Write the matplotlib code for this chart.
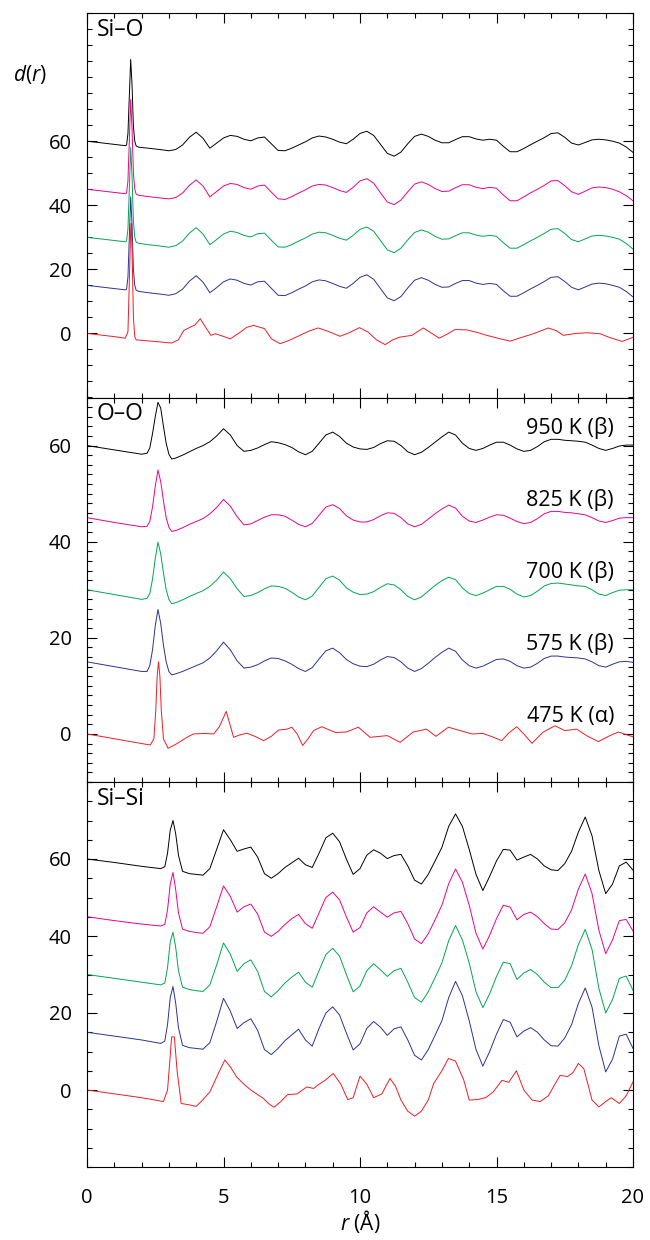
import numpy as np
import matplotlib
matplotlib.use("Agg")
import matplotlib.pyplot as plt
from matplotlib.ticker import FixedLocator, MultipleLocator

plt.rcParams['font.family'] = ['Open Sans', 'DejaVu Sans']
plt.rcParams['mathtext.fontset'] = 'custom'
plt.rcParams['mathtext.rm'] = 'Open Sans'
plt.rcParams['mathtext.it'] = 'Open Sans:italic'

# ---- data -------------------------------------------------------------
temps = ['475 K (α)', '575 K (β)', '700 K (β)', '825 K (β)', '950 K (β)']
offsets = [0, 15, 30, 45, 60]
colors = ['#ed1c24', '#2e3192', '#00a651', '#ec008c', '#000000']

# Si-O, beta phase grid
r_sio = [0, 0.5, 1.0, 1.4, 1.45, 1.5, 1.55, 1.6, 1.65, 1.7, 1.75, 1.8, 1.9, 2.25, 2.75,
         3.0, 3.25, 3.5, 3.75, 4.0, 4.25, 4.5, 4.75, 5.0, 5.25, 5.5, 5.75, 6.0, 6.25,
         6.5, 6.75, 7.0, 7.25, 7.5, 7.75, 8.0, 8.25, 8.5, 8.75, 9.0, 9.25, 9.5, 9.75,
         10.0, 10.25, 10.5, 10.75, 11.0, 11.25, 11.5, 11.75, 12.0, 12.25, 12.5, 12.75,
         13.0, 13.25, 13.5, 13.75, 14.0, 14.25, 14.5, 14.75, 15.0, 15.25, 15.5, 15.75,
         16.0, 16.25, 16.5, 16.75, 17.0, 17.25, 17.5, 17.75, 18.0, 18.25, 18.5, 18.75,
         19.0, 19.25, 19.5, 19.75, 20.0]
sio_575 = [0, -0.5, -1.0, -1.4, -1.2, 2.6, 15, 27.6, 19, 5, 0, -1.5, -1.9, -2.3, -2.8,
           -3.1, -2.6, -1.2, 1.3, 3.0, 1.0, -2.3, -0.7, 1.1, 2.0, 1.6, 0.6, 0.1, 1.1,
           1.3, -0.9, -3.1, -3.2, -2.3, -1.2, -0.2, 1.1, 1.7, 1.4, 0.6, -0.3, -0.9, 0.6,
           2.5, 3.3, 1.9, -1.0, -3.9, -4.8, -3.5, -0.8, 1.6, 2.4, 1.6, 0.3, -0.6, -0.5,
           0.6, 1.5, 1.5, 0.7, 0.3, 0.6, 0.3, -1.7, -3.4, -3.4, -2.3, -1.1, 0.0, 1.2,
           2.5, 2.7, 1.2, -0.6, -1.4, -0.5, 0.4, 0.7, 0.5, 0.0, -0.6, -1.9, -3.6]
sio_700 = [0, -0.5, -1.0, -1.4, -1.2, 2.6, 15, 28, 19, 5, 0, -1.5, -1.9, -2.3, -2.8,
           -3.1, -2.6, -1.2, 1.3, 3.0, 1.0, -2.3, -0.7, 1.0, 1.9, 1.5, 0.6, 0.1, 1.1,
           1.3, -0.9, -3.0, -3.1, -2.3, -1.2, -0.2, 1.0, 1.6, 1.4, 0.6, -0.3, -0.9, 0.6,
           2.5, 3.2, 1.9, -1.0, -3.9, -4.8, -3.4, -0.8, 1.5, 2.3, 1.6, 0.3, -0.6, -0.5,
           0.5, 1.4, 1.4, 0.7, 0.3, 0.6, 0.3, -1.7, -3.4, -3.4, -2.3, -1.1, 0.0, 1.2,
           2.5, 2.7, 1.2, -0.7, -1.4, -0.5, 0.4, 0.6, 0.4, 0.0, -0.6, -1.9, -3.7]
sio_825 = [0, -0.5, -1.0, -1.4, -1.2, 2.6, 15, 28, 19, 5, 0, -1.5, -1.9, -2.3, -2.8,
           -3.0, -2.6, -1.2, 1.2, 2.9, 1.0, -2.4, -0.7, 1.0, 1.8, 1.5, 0.5, 0.0, 1.0,
           1.3, -0.9, -3.0, -3.2, -2.3, -1.2, -0.2, 1.0, 1.5, 1.3, 0.5, -0.4, -1.0, 0.6,
           2.6, 3.3, 1.9, -1.1, -4.0, -4.8, -3.4, -0.8, 1.6, 2.3, 1.5, 0.2, -0.7, -0.6,
           0.5, 1.4, 1.4, 0.6, 0.2, 0.6, 0.3, -1.8, -3.6, -3.6, -2.4, -1.1, 0.0, 1.2,
           2.6, 2.7, 1.1, -0.8, -1.6, -0.6, 0.4, 0.7, 0.5, 0.0, -0.8, -2.0, -3.6]
sio_950 = [0, -0.5, -1.0, -1.4, -1.2, 2.4, 14, 25.5, 17.5, 4.6, 0, -1.5, -1.9, -2.2, -2.7,
           -3.0, -2.6, -1.2, 1.2, 2.8, 0.9, -2.2, -0.6, 1.0, 1.8, 1.5, 0.6, 0.1, 1.0,
           1.3, -0.8, -2.9, -3.0, -2.2, -1.2, -0.2, 1.0, 1.6, 1.3, 0.6, -0.3, -0.8, 0.6,
           2.4, 3.1, 1.8, -1.0, -3.8, -4.7, -3.4, -0.8, 1.5, 2.2, 1.5, 0.3, -0.5, -0.5,
           0.5, 1.4, 1.4, 0.7, 0.3, 0.6, 0.3, -1.6, -3.3, -3.3, -2.3, -1.1, 0.0, 1.1,
           2.4, 2.6, 1.2, -0.6, -1.2, -0.4, 0.4, 0.6, 0.4, 0.0, -0.6, -1.8, -3.5]

# Si-O, alpha phase
r_sio_a = [0, 0.5, 1.0, 1.4, 1.5, 1.55, 1.6, 1.62, 1.65, 1.7, 1.75, 1.8, 2.2, 2.6, 3.1,
           3.35, 3.54, 3.79, 3.95, 4.15, 4.3, 4.54, 4.7, 4.95, 5.25, 5.6, 5.85, 6.1,
           6.5, 6.76, 7.07, 7.4, 7.8, 8.15, 8.47, 8.85, 9.27, 9.6, 9.98, 10.3, 10.6,
           10.92, 11.2, 11.47, 11.9, 12.32, 12.6, 12.9, 13.2, 13.48, 13.9, 14.3, 14.64,
           15.1, 15.5, 15.9, 16.35, 16.9, 17.2, 17.45, 17.9, 18.3, 18.8, 19.1, 19.6, 20.0]
sio_475 = [0, -0.5, -1.0, -1.5, 0.5, 16, 32, 34.3, 26, 5, -1, -2, -2.3, -2.6, -3.0,
           -2.0, 0.9, 2.0, 2.6, 4.6, 2.5, -0.6, -0.1, -0.8, -1.7, 0.3, 1.9, 2.5,
           1.5, -1.7, -3.2, -2.2, -0.6, 0.8, 1.7, 0.6, -0.9, 0.2, 1.8, 0.4, -2.0,
           -3.5, -2.0, -1.15, -0.6, 1.7, 0.2, -1.5, -0.2, 1.2, 1.1, 0.3, -0.6,
           -1.6, -2.4, -1.3, -0.1, 1.7, 0.8, -0.6, 0.0, 0.2, -0.1, -1.15, -2.5, -1.2]

# O-O, beta phase grid
r_oo = [0, 1.0, 2.0, 2.2, 2.3, 2.4, 2.5, 2.6, 2.7, 2.8, 2.9, 3.0, 3.1, 3.25,
        3.5, 3.75, 4.0, 4.25, 4.5, 4.75, 5.0, 5.25, 5.5, 5.75, 6.0, 6.25, 6.5, 6.75,
        7.0, 7.25, 7.5, 7.75, 8.0, 8.25, 8.5, 8.75, 9.0, 9.25, 9.5, 9.75, 10.0, 10.25,
        10.5, 10.75, 11.0, 11.25, 11.5, 11.75, 12.0, 12.25, 12.5, 12.75, 13.0, 13.25,
        13.5, 13.75, 14.0, 14.25, 14.5, 14.75, 15.0, 15.25, 15.5, 15.75, 16.0, 16.25,
        16.5, 16.75, 17.0, 17.25, 17.5, 17.75, 18.0, 18.25, 18.5, 18.75, 19.0, 19.25,
        19.5, 19.75, 20.0]
oo_575 = [0, -1.0, -2.0, -2.0, -0.8, 2.5, 7.5, 10.9, 8.0, 3.5, 0.0, -2.0, -2.7, -2.5,
          -2.0, -1.4, -0.8, -0.2, 0.8, 2.3, 4.1, 2.5, 0.2, -1.3, -1.1, -0.6, 0.2, 0.8,
          0.7, 0.2, -0.5, -1.4, -2.0, -1.2, 0.6, 2.3, 2.85, 1.9, 0.5, -0.4, -0.9, -1.0,
          -0.5, 0.4, 1.1, 0.9, 0.0, -1.3, -2.0, -1.4, -0.3, 0.9, 2.0, 2.85, 2.2, 0.4,
          -0.8, -1.3, -0.9, -0.2, 0.5, 0.6, 0.1, -0.8, -1.3, -1.1, -0.3, 0.7, 1.2, 1.2,
          1.0, 0.9, 0.8, 0.6, 0.0, -0.8, -1.1, -0.5, 0.0, 0.1, -0.1]
oo_700 = [0, -1.0, -2.0, -1.8, -0.8, 2.2, 6.5, 9.9, 7.5, 3.5, 0.0, -2.0, -2.9, -2.7,
          -2.1, -1.4, -0.8, -0.2, 0.7, 2.0, 3.7, 2.3, 0.2, -1.4, -1.2, -0.6, 0.2, 0.8,
          0.7, 0.3, -0.5, -1.5, -2.1, -1.3, 0.5, 2.3, 2.85, 2.0, 0.4, -0.5, -1.0, -0.9,
          -0.4, 0.5, 1.25, 1.0, 0.0, -1.4, -2.1, -1.5, -0.3, 0.9, 1.9, 2.6, 2.1, 0.4,
          -0.8, -1.2, -0.7, 0.0, 0.7, 0.7, 0.1, -0.9, -1.5, -1.2, -0.3, 0.8, 1.3, 1.4,
          1.2, 1.0, 0.8, 0.7, 0.0, -0.9, -1.2, -0.6, -0.1, 0.0, 0.0]
oo_825 = [0, -1.0, -1.9, -1.8, -0.8, 2.2, 6.5, 9.9, 7.5, 3.5, 0.0, -2.0, -2.85, -2.7,
          -2.1, -1.4, -0.8, -0.2, 0.8, 2.1, 3.8, 2.4, 0.2, -1.5, -1.3, -0.6, 0.1, 0.6,
          0.6, 0.3, -0.5, -1.4, -1.9, -1.2, 0.5, 2.2, 2.7, 1.9, 0.4, -0.5, -0.9, -0.9,
          -0.4, 0.4, 1.0, 0.9, 0.0, -1.3, -1.9, -1.4, -0.3, 0.8, 1.8, 2.6, 2.0, 0.3,
          -0.7, -1.0, -0.5, 0.1, 0.6, 0.5, -0.1, -0.8, -1.25, -1.0, -0.2, 0.8, 1.3, 1.3,
          1.1, 1.0, 0.8, 0.6, 0.0, -0.7, -1.0, -0.6, -0.1, 0.0, 0.0]
oo_950 = [0, -0.9, -1.8, -1.6, -0.5, 2.5, 6.0, 9.0, 7.8, 4.0, 0.5, -1.8, -2.8, -2.6,
          -2.0, -1.3, -0.6, 0.0, 0.8, 2.0, 3.5, 2.2, 0.0, -1.2, -1.0, -0.5, 0.2, 0.8,
          0.6, 0.2, -0.4, -1.3, -1.9, -1.2, 0.5, 2.2, 2.8, 1.9, 0.5, -0.3, -0.7, -0.8,
          -0.4, 0.4, 1.0, 0.9, 0.0, -1.3, -1.9, -1.4, -0.4, 0.7, 1.8, 2.8, 2.2, 0.5,
          -0.6, -1.0, -0.6, 0.1, 0.7, 0.7, 0.1, -0.7, -1.2, -1.0, -0.2, 0.8, 1.3, 1.3,
          1.1, 1.0, 0.9, 0.7, 0.1, -0.6, -1.0, -0.6, -0.1, 0.1, 0.1]

# O-O, alpha phase
r_oo_a = [0, 1.0, 2.0, 2.32, 2.45, 2.52, 2.57, 2.62, 2.67, 2.72, 2.8, 2.97, 3.3, 3.66,
          3.9, 4.3, 4.64, 4.85, 5.1, 5.37, 5.6, 5.86, 6.15, 6.47, 6.75, 7.02, 7.33,
          7.5, 7.7, 7.9, 8.1, 8.3, 8.6, 9.1, 9.5, 9.94, 10.37, 11.0, 11.47, 11.95,
          12.44, 12.78, 13.24, 13.66, 14.1, 14.5, 14.85, 15.19, 15.45, 15.74, 16.0,
          16.3, 16.7, 17.14, 17.5, 17.94, 18.3, 18.73, 19.1, 19.46, 20.0]
oo_475 = [0, -1.0, -2.0, -2.3, -1.0, 5, 12, 15, 12, 5, -1, -3.0, -2.0, -0.7,
          0.0, 0.1, 0.0, 1.5, 4.7, -0.7, -0.2, 0.15, -0.5, -1.4, -0.5, 0.8, 1.0,
          1.4, 0.0, -2.4, -1.0, 0.7, 1.5, 0.3, 0.4, 1.4, -0.7, -0.35, -1.75, 0.4,
          1.0, -0.5, 1.4, 0.7, 0.0, 0.1, -0.6, -1.4, 0.2, 1.5, 0.0,
          -1.95, 0.35, 1.7, 0.7, 1.0, -0.35, -1.6, -0.5, 0.4, -0.6]

# Si-Si, beta phase grid
r_sisi = [0, 1.0, 2.0, 2.7, 2.85, 2.95, 3.05, 3.15, 3.25, 3.35, 3.5, 3.75,
          4.0, 4.25, 4.5, 4.75, 5.0, 5.25, 5.5, 5.75, 6.0, 6.25, 6.5, 6.75, 7.0, 7.25,
          7.5, 7.75, 8.0, 8.25, 8.5, 8.75, 9.0, 9.25, 9.5, 9.75, 10.0, 10.25, 10.5,
          10.75, 11.0, 11.25, 11.5, 11.75, 12.0, 12.25, 12.5, 12.75, 13.0, 13.25, 13.5,
          13.75, 14.0, 14.25, 14.5, 14.75, 15.0, 15.25, 15.5, 15.75, 16.0, 16.25, 16.5,
          16.75, 17.0, 17.25, 17.5, 17.75, 18.0, 18.25, 18.5, 18.75, 19.0, 19.25, 19.5,
          19.75, 20.0]
sisi_575 = [0, -1.0, -2.0, -2.9, -2.3, 2.0, 9.0, 11.9, 7.5, 1.2, -3.4, -4.0,
            -4.2, -4.4, -2.7, 2.8, 8.8, 5.5, 1.0, 2.5, 3.5, 0.5, -4.5, -5.8, -4.2, -2.2,
            -0.7, 0.8, -2.0, -3.6, 1.0, 5.0, 6.6, 4.5, -0.2, -4.6, -3.0, 1.0, 2.8,
            1.3, -0.8, 0.9, 1.4, -2.0, -6.0, -7.2, -4.5, -0.8, 3.0, 9.0, 13.2,
            9.5, 3.0, -4.5, -8.8, -5.0, -0.5, 3.3, 2.6, -1.2, 0.3, 1.2, 0.0,
            -2.0, -3.5, -3.6, -1.5, 2.0, 7.5, 11.5, 6.5, -3.5, -10.3, -7.0, -1.0,
            -0.5, -4.2]
sisi_700 = [0, -1.0, -2.0, -2.7, -2.2, 1.8, 8.5, 11.0, 7.0, 1.0, -3.3, -3.9,
            -4.2, -4.4, -2.7, 2.5, 8.2, 5.3, 0.8, 2.8, 3.8, 0.8, -4.4, -5.8, -4.2, -2.2,
            -0.7, 0.6, -2.0, -3.3, 1.0, 5.2, 6.8, 4.8, 0.0, -4.5, -3.0, 1.0, 2.8,
            1.2, -0.5, 1.0, 1.6, -2.0, -6.0, -7.2, -4.5, -0.8, 3.0, 8.8, 12.7,
            9.0, 3.0, -4.5, -8.6, -5.0, -0.5, 3.2, 2.8, -1.3, 0.4, 1.3, 0.0,
            -2.0, -3.4, -3.4, -1.5, 2.3, 7.8, 11.7, 6.5, -3.6, -10.0, -6.5, -1.0,
            -0.4, -4.1]
sisi_825 = [0, -1.0, -1.9, -2.4, -2.0, 1.8, 8.5, 11.5, 7.0, 1.0, -3.2, -3.8,
            -4.1, -4.3, -2.6, 2.6, 8.0, 5.3, 1.2, 2.6, 3.3, 0.7, -4.0, -5.1, -3.8, -2.0,
            -0.5, 0.6, -1.8, -3.0, 1.0, 5.0, 6.4, 4.4, 0.0, -4.0, -2.8, 1.0, 2.6,
            1.2, -0.1, 1.0, 1.4, -1.8, -5.8, -7.0, -4.4, -0.8, 3.0, 8.6, 12.4,
            9.0, 3.0, -4.3, -8.4, -4.8, -0.5, 3.0, 2.5, -0.8, 0.6, 1.2, 0.0,
            -1.8, -3.2, -3.3, -1.6, 1.8, 7.2, 11.1, 6.0, -3.5, -9.6, -6.0, -1.0,
            -0.7, -3.7]
sisi_950 = [0, -0.9, -1.9, -2.5, -2.0, 1.5, 7.5, 10.0, 6.5, 1.0, -3.2, -3.8,
            -4.0, -4.2, -2.5, 2.5, 7.6, 5.0, 2.0, 2.6, 3.1, 0.5, -3.8, -5.0, -3.8, -2.2,
            -1.0, 0.2, -1.5, -2.2, 1.5, 5.5, 6.7, 4.5, 0.0, -4.0, -2.5, 1.0, 2.4,
            1.5, 0.1, 0.9, 1.2, -1.8, -5.5, -6.5, -4.0, -0.5, 3.0, 8.5, 11.7,
            8.5, 2.5, -4.0, -8.2, -4.5, -0.5, 2.5, 2.3, -0.3, 0.5, 1.2, 0.0,
            -1.8, -2.8, -3.0, -1.2, 2.0, 7.0, 10.9, 6.0, -3.0, -9.0, -6.5, -1.8,
            -0.8, -2.9]

# Si-Si, alpha phase
r_sisi_a = [0, 1.0, 2.0, 2.8, 2.95, 3.05, 3.1, 3.2, 3.3, 3.45, 3.7, 4.0, 4.25, 4.5,
            4.81, 5.05, 5.25, 5.48, 5.75, 6.0, 6.25, 6.46, 6.65, 6.85, 7.1, 7.35, 7.7,
            8.05, 8.3, 8.5, 8.7, 9.02, 9.3, 9.55, 9.75, 10.0, 10.25, 10.5, 10.8, 11.1,
            11.3, 11.5, 11.75, 12.0, 12.25, 12.5, 12.7, 13.0, 13.24, 13.5, 13.8, 14.0,
            14.3, 14.6, 14.88, 15.2, 15.45, 15.73, 16.0, 16.3, 16.6, 16.9, 17.1, 17.33,
            17.6, 17.8, 18.0, 18.2, 18.5, 18.75, 19.0, 19.2, 19.5, 19.75, 20.0]
sisi_475 = [0, -1.0, -2.0, -3.0, 0, 9, 13.8, 13.8, 5, -3.5, -3.8, -4.25, -2.5, -0.5,
            4.3, 7.8, 6, 3.4, 1.5, 0, -1.2, -2.2, -3.5, -4.5, -3.0, -1.2, -1.0,
            0.8, 0.4, 1.5, 2.4, 4.3, 1.5, -2.5, -2.0, 3.6, 1.5, -2, -1.0, 3.0,
            1.0, -2.6, -5.5, -6.8, -5.5, -2.6, 1.7, 5.0, 8.2, 7.5, 2.6, -2.6,
            -2.5, -2.0, -0.5, 2.5, 2.0, 5.0, 0.0, -2.6, -3.0, -1.5, 1.0, 3.8,
            3.5, 4.5, 6.9, 5.5, -2.6, -4.4, -3.0, -2.0, -3.5, -1.5, 2.1]

panels = [
    ('Si–O', (-20, 100), 5,
     [(r_sio_a, sio_475), (r_sio, sio_575), (r_sio, sio_700), (r_sio, sio_825), (r_sio, sio_950)]),
    ('O–O', (-10, 70), 2,
     [(r_oo_a, oo_475), (r_oo, oo_575), (r_oo, oo_700), (r_oo, oo_825), (r_oo, oo_950)]),
    ('Si–Si', (-20, 80), 5,
     [(r_sisi_a, sisi_475), (r_sisi, sisi_575), (r_sisi, sisi_700), (r_sisi, sisi_825), (r_sisi, sisi_950)]),
]

# ---- figure -----------------------------------------------------------
fig = plt.figure(figsize=(6.5, 12.4), dpi=100)
left, width = 87 / 650, 546 / 650
edges = [13, 397.5, 782, 1167]

axes = []
for i, (name, ylim, minor, curves) in enumerate(panels):
    top, bot = edges[i], edges[i + 1]
    ax = fig.add_axes([left, 1 - bot / 1240, width, (bot - top) / 1240])
    axes.append(ax)
    # draw from the top curve down so the alpha trace sits on top
    for k in range(4, -1, -1):
        r, d = curves[k]
        ax.plot(r, np.asarray(d) + offsets[k], color=colors[k], lw=0.7,
                solid_joinstyle='round')
    ax.set_xlim(0, 20)
    ax.set_ylim(*ylim)
    ax.yaxis.set_major_locator(FixedLocator([0, 20, 40, 60]))
    ax.yaxis.set_minor_locator(MultipleLocator(minor))
    ax.xaxis.set_major_locator(MultipleLocator(5))
    ax.xaxis.set_minor_locator(MultipleLocator(1))
    ax.tick_params(which='both', direction='in', top=True, right=True,
                   width=0.8, labelsize=14.5, pad=11)
    ax.tick_params(which='major', length=7)
    ax.tick_params(which='minor', length=3.5)
    for s in ax.spines.values():
        s.set_linewidth(0.8)
    ax.text(0.35, ylim[1] - (ylim[1] - ylim[0]) * 0.012, name, fontsize=16.5,
            ha='left', va='top')
    if i < 2:
        ax.tick_params(labelbottom=False)

# temperature labels on the O-O panel
for k in range(5):
    axes[1].text(19.3, offsets[k] + 3.7, temps[k], fontsize=15.5,
                 ha='right', va='center')

axes[2].tick_params(axis='x', pad=15)
axes[2].set_xlabel('$r$ (Å)', fontsize=15, labelpad=0)
fig.text(30 / 650, 1 - 74 / 1240, '$d$($r$)', fontsize=15, ha='center', va='center')

fig.savefig('out.png', dpi=100)
